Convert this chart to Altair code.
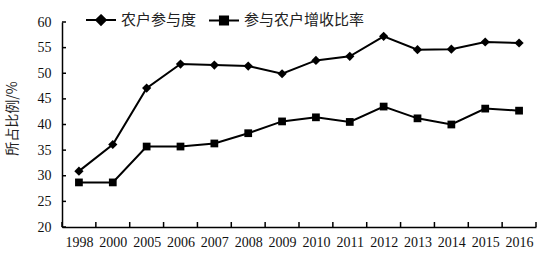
import altair as alt
import pandas as pd

years = ["1998", "2000", "2005", "2006", "2007", "2008", "2009",
         "2010", "2011", "2012", "2013", "2014", "2015", "2016"]
participation = [30.9, 36.1, 47.1, 51.8, 51.6, 51.4, 49.9,
                 52.5, 53.3, 57.2, 54.6, 54.7, 56.1, 55.9]
income_ratio = [28.7, 28.7, 35.7, 35.7, 36.3, 38.3, 40.6,
                41.4, 40.5, 43.5, 41.2, 40.0, 43.1, 42.7]
series_names = ["农户参与度", "参与农户增收比率"]
y_tick_values = [20, 25, 30, 35, 40, 45, 50, 55, 60]
x_tick_bounds = [-0.5, 0.5, 1.5, 2.5, 3.5, 4.5, 5.5, 6.5, 7.5,
                 8.5, 9.5, 10.5, 11.5, 12.5, 13.5]

rows = []
for name, vals in zip(series_names, [participation, income_ratio]):
    for i, (yr, v) in enumerate(zip(years, vals)):
        rows.append({"x": i, "y": v, "series": name, "year": yr})
df = pd.DataFrame(rows)

label_expr = "[" + ",".join("'%s'" % y for y in years) + "][datum.value]"

X = alt.X(
    "x:Q",
    scale=alt.Scale(domain=[-0.5, len(years) - 0.5], nice=False, zero=False),
    axis=alt.Axis(
        values=list(range(len(years))), labelExpr=label_expr, ticks=False,
        grid=False, title=None, domainColor="black", domainWidth=1.5,
        labelFont="Liberation Serif", labelFontSize=14, labelColor="#111",
        labelPadding=8, labelOverlap=False, labelFlush=False,
    ),
)
Y = alt.Y(
    "y:Q",
    scale=alt.Scale(domain=[20, 60], nice=False, zero=False),
    axis=alt.Axis(
        values=y_tick_values, ticks=False, grid=False,
        title="所占比例/%", titleFont="Noto Sans CJK SC", titleFontSize=14,
        titleFontWeight="normal", titleColor="#222", titleAngle=270,
        titleX=-50, titleY=96, titleAlign="center", titleBaseline="middle",
        domainColor="black", domainWidth=1.5,
        labelFont="Liberation Serif", labelFontSize=14, labelColor="#111",
        labelPadding=11,
    ),
)

xticks = alt.Chart(pd.DataFrame({"x": x_tick_bounds})).mark_rule(
    color="black", strokeWidth=1.5
).encode(x=X, y=alt.value(205), y2=alt.value(200))

yticks = alt.Chart(pd.DataFrame({"y": y_tick_values})).mark_rule(
    color="black", strokeWidth=1.5
).encode(y=Y, x=alt.value(0), x2=alt.value(4))

lines = alt.Chart(df).mark_line(color="black", strokeWidth=2).encode(
    x=X, y=Y, detail="series:N"
)

points = alt.Chart(df).mark_point(filled=True, color="black", opacity=1).encode(
    x=X, y=Y,
    shape=alt.Shape("series:N", scale=alt.Scale(domain=series_names, range=["diamond", "square"]), legend=None),
    size=alt.Size("series:N", scale=alt.Scale(domain=series_names, range=[85, 60]), legend=None),
)

diamond_path = "M-1,0L1,0M0,-0.32L0.32,0L0,0.32L-0.32,0Z"
square_path = "M-1,0L1,0M-0.27,-0.27L0.27,-0.27L0.27,0.27L-0.27,0.27Z"

legend_layer = alt.Chart(df).mark_point(
    filled=True, fill="black", stroke="black", strokeWidth=2, opacity=0
).encode(
    x=X, y=Y,
    shape=alt.Shape(
        "series:N",
        scale=alt.Scale(domain=series_names, range=[diamond_path, square_path]),
        legend=alt.Legend(
            orient="none", legendX=23, legendY=-18, direction="horizontal",
            title=None, symbolSize=900, symbolOpacity=1, symbolStrokeWidth=2,
            labelFont="Noto Sans CJK SC", labelFontSize=15, labelColor="#222",
            labelOffset=4, columnPadding=8, padding=0,
        ),
    ),
)

chart = alt.layer(xticks, yticks, lines, points, legend_layer).resolve_scale(
    shape="independent"
).properties(
    width=474, height=205,
    autosize=alt.AutoSizeParams(type="none"),
    padding={"left": 62, "top": 22, "right": 5, "bottom": 26},
).configure_view(stroke=None)

chart.save("out.html", embed_options={"renderer": "svg", "actions": False})
